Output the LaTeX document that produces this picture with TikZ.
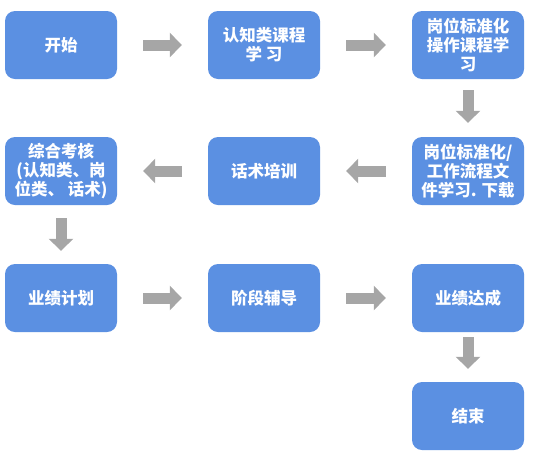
\documentclass[tikz,border=0pt]{standalone}
\usepackage{fontspec}
\setmainfont{Noto Sans CJK SC}
\usetikzlibrary{arrows.meta}
\definecolor{step fill}{RGB}{91,144,226}
\colorlet{step arrow}{black!35}
\tikzset{stepbox/.style={fill=step fill, rounded corners=10pt, minimum width=112pt,
		minimum height=68pt, inner sep=0pt, text=white, align=center,
		font=\fontsize{16.5}{19}\selectfont\bfseries},
	flow/.style={draw=step arrow, line width=11pt, -{Triangle[length=12pt,width=24pt]},
		shorten <=26pt, shorten >=26pt}}

\begin{document}
\begin{tikzpicture}[x=1pt,y=-1pt]
		\useasboundingbox (0,0) rectangle (533,456);
		\node[stepbox] (start) at (61,45) {开始};
		\node[stepbox] (cognit) at (264,45) {认知类课程\\学 习};
		\node[stepbox] (oper) at (468,45) {岗位标准化\\操作课程学\\习};
		
		\node[stepbox] (files) at (468,171) {岗位标准化/\\工作流程文\\件学习. 下载};
		\node[stepbox] (speech) at (264,171) {话术培训};
		\node[stepbox] (exam) at (61,171) {综合考核\\(认知类、岗\\位类、 话术)};
		
		\node[stepbox] (plan) at (61,298) {业绩计划};
		\node[stepbox] (coach) at (264,298) {阶段辅导};
		\node[stepbox] (reach) at (468,298) {业绩达成};
		\node[stepbox] (finish) at (468,416) {结束};
		
		\draw[flow] (start) -- (cognit);
		\draw[flow] (cognit) -- (oper);
		\draw[flow, shorten <=11pt, shorten >=14pt] (oper) -- (files);
		\draw[flow] (files) -- (speech);
		\draw[flow] (speech) -- (exam);
		\draw[flow, shorten <=13pt, shorten >=13pt] (exam) -- (plan);
		\draw[flow] (plan) -- (coach);
		\draw[flow] (coach) -- (reach);
		\draw[flow, shorten <=5pt, shorten >=13pt] (reach) -- (finish);
		\end{tikzpicture}
\end{document}
